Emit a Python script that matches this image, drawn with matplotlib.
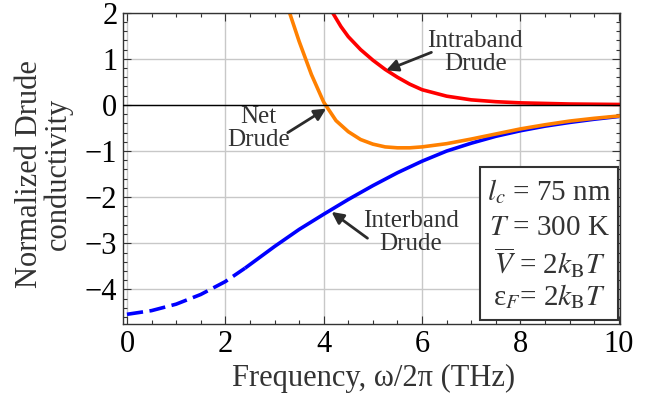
import matplotlib
matplotlib.use("Agg")
import matplotlib.pyplot as plt
from matplotlib.patches import Rectangle
from matplotlib.ticker import MultipleLocator

# Conductivités de Drude normalisées (fréquence en THz)
freq_inter = [0, 0.5, 1, 1.5, 2, 2.4, 3, 3.5, 4, 4.5, 5, 5.5, 6, 6.5, 7,
              7.5, 8, 8.5, 9, 9.5, 10]
sigma_inter = [-4.54, -4.46, -4.32, -4.11, -3.83, -3.54, -3.07, -2.70, -2.37,
               -2.05, -1.75, -1.47, -1.22, -1.00, -0.83, -0.68, -0.56, -0.46,
               -0.38, -0.31, -0.25]
n_dashed = 6  # partie pointillée : de 0 à 2.4 THz

freq_intra = [4.17, 4.35, 4.5, 4.75, 5, 5.25, 5.5, 5.75, 6, 6.5, 7, 7.5, 8,
              9, 10]
sigma_intra = [2.02, 1.70, 1.48, 1.20, 0.97, 0.77, 0.60, 0.45, 0.33, 0.19,
               0.11, 0.07, 0.045, 0.02, 0.01]

freq_net = [3.29, 3.5, 3.75, 4.0, 4.25, 4.5, 4.75, 5.0, 5.25, 5.5, 5.75, 6.0,
            6.5, 7.0, 7.5, 8.0, 8.5, 9.0, 9.5, 10]
sigma_net = [2.05, 1.38, 0.66, 0.06, -0.34, -0.58, -0.75, -0.85, -0.91, -0.93,
             -0.93, -0.91, -0.84, -0.74, -0.63, -0.52, -0.43, -0.35, -0.29,
             -0.24]

params = [r"$l_c$ = 75 nm", r"$T$ = 300 K", r"$\overline{V}$ = 2$k_\mathrm{B}T$",
          r"ε$_F$= 2$k_\mathrm{B}T$"]

plt.rcParams["font.family"] = "Liberation Serif"
plt.rcParams["mathtext.fontset"] = "stix"
TXT = "#333333"

fig = plt.figure(figsize=(6.65, 4.12), dpi=100)
ax = fig.add_axes([0.185, 0.2136, 0.747, 0.7556])

ax.plot(freq_inter[:n_dashed], sigma_inter[:n_dashed], color="#0000ff", lw=2.6,
        ls=(0, (4.5, 1.8)), zorder=2)
ax.plot(freq_inter[n_dashed - 1:], sigma_inter[n_dashed - 1:], color="#0000ff",
        lw=2.6, zorder=2, solid_capstyle="butt")
ax.plot(freq_intra, sigma_intra, color="#ff0000", lw=2.6, zorder=2.1)
ax.plot(freq_net, sigma_net, color="#ff8000", lw=2.6, zorder=2.2)
ax.axhline(0, color="black", lw=1.0, zorder=3)

ax.set_xlim(-0.08, 10.02)
ax.set_ylim(-4.75, 2.0)
ax.xaxis.set_major_locator(MultipleLocator(2))
ax.xaxis.set_minor_locator(MultipleLocator(0.5))
ax.yaxis.set_major_locator(MultipleLocator(1))
ax.yaxis.set_minor_locator(MultipleLocator(0.2))
ax.grid(True, which="major", color="#c8c8c8", lw=1.0, zorder=0)
ax.set_axisbelow(True)
ax.tick_params(which="both", direction="in", top=True, right=True,
               color=TXT, width=0.8, labelsize=22, labelcolor="black")
ax.tick_params(which="major", length=6, pad=4)
ax.tick_params(which="minor", length=3)
for sp in ax.spines.values():
    sp.set_color(TXT)
    sp.set_linewidth(1.0)

arrow = dict(arrowstyle="-|>,head_length=0.7,head_width=0.35", color="#2b2b2b",
             lw=2.0, shrinkA=0, shrinkB=0)
ax.annotate("", xy=(5.27, 0.75), xytext=(6.19, 1.14), arrowprops=arrow)
ax.annotate("", xy=(4.05, -0.08), xytext=(3.27, -0.60), arrowprops=arrow)
ax.annotate("", xy=(4.16, -2.32), xytext=(4.89, -2.89), arrowprops=arrow)
lab = dict(ha="center", va="center", fontsize=18, color=TXT, linespacing=1.05)
ax.text(7.08, 1.13, "Intraband\nDrude", **lab)
ax.text(2.68, -0.52, "Net\nDrude", **lab)
ax.text(5.77, -2.76, "Interband\nDrude", **lab)

ax.add_patch(Rectangle((0.718, 0.013), 0.278, 0.49, transform=ax.transAxes,
                       facecolor="white", edgecolor=TXT, lw=1.5, zorder=5))
for txt, yy in zip(params, [0.424, 0.308, 0.196, 0.087]):
    ax.text(0.859, yy, txt, transform=ax.transAxes, ha="center", va="center",
            fontsize=21, color=TXT, zorder=6)

fig.text(0.5624, 0.0825, "Frequency, ω/2π (THz)", ha="center", va="center",
         fontsize=22, color=TXT)
fig.text(0.066, 0.578, "Normalized Drude\nconductivity", ha="center",
         va="center", rotation=90, fontsize=22, color=TXT, linespacing=1.0)

fig.savefig("out.png", dpi=100)
